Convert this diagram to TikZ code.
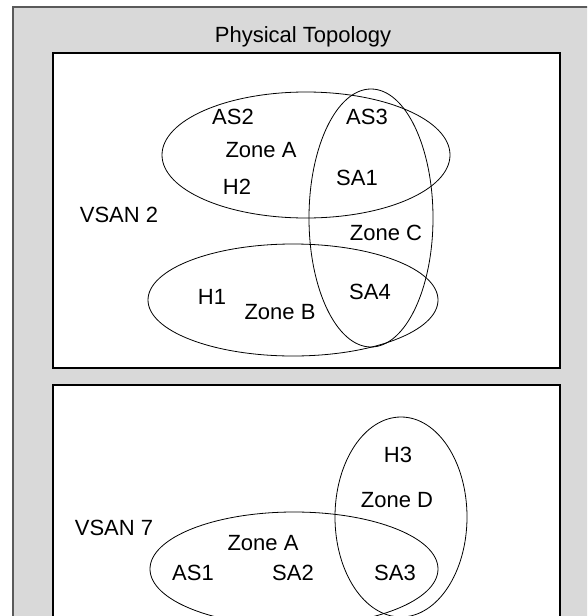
\documentclass[tikz,border=0pt]{standalone}
\usepackage{fontspec}
\setmainfont{Liberation Sans}
\begin{document}
\begin{tikzpicture}[x=1pt,y=-1pt,
  lbl/.style={font=\fontsize{22}{25}\selectfont, inner sep=0pt, anchor=center},
  zone/.style={draw=black, line width=0.8pt},
  panel/.style={draw=black, fill=white, line width=1.2pt}]
  \clip (0,0) rectangle (587,616);
  % outer frame
  \fill[fill={rgb,255:red,217;green,217;blue,217}] (13,7) rectangle (620,640);
  \draw[line width=1.5pt, draw={rgb,255:red,90;green,90;blue,90}] (13,640) -- (13,7) -- (620,7);
  \node[lbl] (title) at (303,37) {Physical Topology};

  % VSAN 2 panel
  \draw[panel] (53,53) rectangle (560,368);
  \draw[zone] (306,155) ellipse [x radius=144, y radius=63];
  \draw[zone] (371,218) ellipse [x radius=62, y radius=129];
  \draw[zone] (293,300) ellipse [x radius=145, y radius=56];
  \node[lbl] (vsan2) at (119,215) {VSAN 2};
  \node[lbl] (as2) at (233,117) {AS2};
  \node[lbl] (zoneA) at (261,150) {Zone A};
  \node[lbl] (h2) at (237,187) {H2};
  \node[lbl] (as3) at (367,117) {AS3};
  \node[lbl] (sa1) at (357,178) {SA1};
  \node[lbl] (zoneC) at (386,233) {Zone C};
  \node[lbl] (h1) at (212,297) {H1};
  \node[lbl] (zoneB) at (280,312) {Zone B};
  \node[lbl] (sa4) at (370,292) {SA4};

  % VSAN 7 panel
  \draw[panel] (53,385) rectangle (560,640);
  \draw[zone] (401,517) ellipse [x radius=66, y radius=100];
  \draw[zone] (294,569) ellipse [x radius=144, y radius=57];
  \node[lbl] (vsan7) at (114,528) {VSAN 7};
  \node[lbl] (h3) at (398,455) {H3};
  \node[lbl] (zoneD) at (397,500) {Zone D};
  \node[lbl] (zoneA7) at (263,543) {Zone A};
  \node[lbl] (as1) at (193,573) {AS1};
  \node[lbl] (sa2) at (293,573) {SA2};
  \node[lbl] (sa3) at (395,573) {SA3};
\end{tikzpicture}
\end{document}
